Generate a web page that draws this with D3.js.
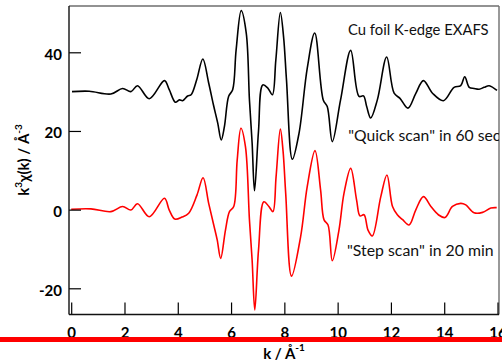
<!DOCTYPE html>
<html>
<head>
<meta charset="utf-8">
<script src="https://cdn.jsdelivr.net/npm/d3@7"></script>
<style>
  html, body { margin: 0; padding: 0; background: #fff; }
  svg { display: block; }
</style>
</head>
<body>
<svg id="chart" width="502" height="361"></svg>
<script>
// ---------------- data ----------------
const stepK = [0, 0.74, 1.49, 1.93, 2.24, 2.49, 2.93, 3.50, 3.68, 3.89, 4.16, 4.41, 4.72, 4.95, 5.16, 5.35, 5.48, 5.61, 5.79, 5.94, 6.10, 6.23, 6.37, 6.54, 6.69, 6.79, 6.89, 7.03, 7.23, 7.42, 7.57, 7.69, 7.85, 7.95, 8.05, 8.27, 8.61, 8.86, 9.15, 9.36, 9.49, 9.64, 9.80, 10.05, 10.24, 10.49, 10.71, 10.84, 10.99, 11.14, 11.30, 11.62, 11.85, 12.06, 12.24, 12.43, 12.68, 12.93, 13.22, 13.50, 13.78, 14.03, 14.31, 14.62, 14.81, 15.12, 15.44, 15.75, 15.97];
const stepChi = [0.1, 0.2, -0.5, 0.8, -0.1, 1.5, -1.8, 2.9, -0.1, -2.4, -1.9, -0.9, 3.7, 8.1, 1.6, -3.9, -7.7, -12.4, -5.2, -0.5, 0.8, 12.6, 20.7, 16.0, -2.6, -12.8, -25.5, -10.3, 2.0, 0.8, -0.5, 8.4, 20.5, 15.0, 4.2, -16.9, -6.9, 5.9, 15.0, 5.0, -2.6, -3.9, -13.0, -5.2, 4.2, 10.5, 2.5, -1.6, -1.3, -5.2, -6.7, 3.3, 8.8, 0.8, -1.3, -2.5, -3.9, -0.1, 3.3, 0.8, -1.3, -2.0, 0.8, 1.6, 1.2, -0.8, -0.7, 0.4, 0.5];

const quickK = [0.03, 0.68, 1.49, 1.93, 2.24, 2.49, 2.93, 3.50, 3.68, 3.91, 4.06, 4.18, 4.37, 4.50, 4.71, 4.94, 5.16, 5.34, 5.50, 5.63, 5.75, 5.91, 6.06, 6.19, 6.38, 6.57, 6.69, 6.79, 6.88, 7.03, 7.19, 7.38, 7.55, 7.68, 7.85, 7.97, 8.08, 8.30, 8.55, 8.86, 9.14, 9.46, 9.61, 9.80, 10.11, 10.49, 10.80, 10.97, 11.09, 11.24, 11.49, 11.84, 12.12, 12.34, 12.64, 12.93, 13.22, 13.56, 13.97, 14.37, 14.62, 14.77, 14.94, 15.12, 15.31, 15.50, 15.69, 15.98];
const quickChi = [30.0, 30.1, 29.4, 30.8, 30.0, 31.5, 28.2, 32.8, 30.5, 27.3, 27.9, 27.7, 28.9, 29.2, 33.0, 38.3, 32.2, 26.6, 22.0, 17.7, 21.1, 28.8, 30.5, 40.6, 50.6, 44.9, 27.9, 17.0, 4.8, 20.0, 31.7, 30.9, 29.2, 38.0, 50.1, 44.0, 33.0, 12.8, 19.4, 36.0, 44.9, 27.9, 26.2, 17.3, 27.9, 40.5, 28.8, 28.9, 26.2, 23.3, 27.9, 38.8, 29.6, 28.3, 25.8, 29.5, 32.8, 29.6, 27.7, 31.1, 31.5, 33.8, 31.1, 30.8, 30.6, 31.1, 31.5, 30.3];

const xTicks = [0, 2, 4, 6, 8, 10, 12, 14, 16];
const yTicks = [-20, 0, 20, 40];
const titleText = "Cu foil K-edge EXAFS";
const quickLabel = "\"Quick scan\" in 60 sec";
const stepLabel = "\"Step scan\" in 20 min";

// ---------------- layout ----------------
const svg = d3.select("#chart");
const frame = {left: 69, right: 499, top: 6, bottom: 314.5};
const x = d3.scaleLinear().domain([0, 16]).range([71.2, 497.5]);
const y = d3.scaleLinear().domain([-20, 40]).range([288.3, 52.3]);
const FONT = "Lato, 'Open Sans', sans-serif";

svg.append("defs").append("clipPath").attr("id", "plotclip")
  .append("rect").attr("x", frame.left).attr("y", frame.top)
  .attr("width", frame.right - frame.left).attr("height", frame.bottom - frame.top);

// frame top/right (gray)
svg.append("line").attr("x1", frame.left).attr("x2", frame.right)
  .attr("y1", frame.top).attr("y2", frame.top)
  .attr("stroke", "#6e6e6e").attr("stroke-width", 1.4);
svg.append("line").attr("x1", frame.right).attr("x2", frame.right)
  .attr("y1", frame.top).attr("y2", frame.bottom)
  .attr("stroke", "#6e6e6e").attr("stroke-width", 1.4);

// curves
const line = d3.line().curve(d3.curveCatmullRom.alpha(0.5))
  .x(d => x(d[0])).y(d => y(d[1]));
const plot = svg.append("g").attr("clip-path", "url(#plotclip)");
plot.append("path").datum(stepK.map((k, i) => [k, stepChi[i]]))
  .attr("d", line).attr("fill", "none").attr("stroke", "#ff0000")
  .attr("stroke-width", 1.6).attr("stroke-linejoin", "round");
plot.append("path").datum(quickK.map((k, i) => [k, quickChi[i]]))
  .attr("d", line).attr("fill", "none").attr("stroke", "#000")
  .attr("stroke-width", 1.6).attr("stroke-linejoin", "round");

// y axis
const yAxis = svg.append("g").attr("transform", `translate(${frame.left},0)`)
  .call(d3.axisLeft(y).tickValues(yTicks).tickFormat(d => String(d)).tickSize(-12).tickPadding(7));
yAxis.select(".domain").remove();
yAxis.selectAll(".tick line").attr("stroke", "#000").attr("stroke-width", 1.2);
yAxis.selectAll(".tick text").attr("dy", "0.45em")
  .style("font-family", FONT).style("font-weight", "700").style("font-size", "15px").attr("fill", "#000");

// x axis
const xAxis = svg.append("g").attr("transform", `translate(0,${frame.bottom})`)
  .call(d3.axisBottom(x).tickValues(xTicks).tickFormat(d => String(d)).tickSize(-12));
xAxis.select(".domain").remove();
xAxis.selectAll(".tick line").attr("stroke", "#000").attr("stroke-width", 1.2);
xAxis.selectAll(".tick text").attr("y", 23.5).attr("dy", 0)
  .style("font-family", FONT).style("font-weight", "700").style("font-size", "15px").attr("fill", "#000");

// left / bottom axis lines
svg.append("line").attr("x1", frame.left).attr("x2", frame.left)
  .attr("y1", frame.top).attr("y2", frame.bottom)
  .attr("stroke", "#111").attr("stroke-width", 1.4);
svg.append("line").attr("x1", frame.left).attr("x2", frame.right)
  .attr("y1", frame.bottom).attr("y2", frame.bottom)
  .attr("stroke", "#111").attr("stroke-width", 1.4);

// annotations
function fitText(sel, target) {
  const w = sel.node().getComputedTextLength();
  const fs = parseFloat(sel.style("font-size"));
  sel.style("font-size", (fs * target / w) + "px");
}
const tTitle = svg.append("text").attr("x", 348).attr("y", 35).text(titleText)
  .style("font-family", FONT).style("font-size", "14px").attr("fill", "#111");
fitText(tTitle, 140.7);
const tQuick = svg.append("g").attr("clip-path", "url(#plotclip)")
  .append("text").attr("x", 348.3).attr("y", 141).text(quickLabel)
  .style("font-family", FONT).style("font-size", "14px").attr("fill", "#111");
fitText(tQuick, 152);
const tStep = svg.append("text").attr("x", 347).attr("y", 256).text(stepLabel)
  .style("font-family", FONT).style("font-size", "14px").attr("fill", "#111");
fitText(tStep, 146.7);

// axis titles
const yLab = svg.append("text").attr("transform", "translate(29,160) rotate(-90)")
  .attr("text-anchor", "middle")
  .style("font-family", FONT).style("font-weight", "700").style("font-size", "15px").attr("fill", "#000");
yLab.append("tspan").text("k");
yLab.append("tspan").attr("dy", -7).style("font-size", "10px").text("3");
yLab.append("tspan").attr("dy", 7).text("χ(k) / Å");
yLab.append("tspan").attr("dy", -7).style("font-size", "10px").text("-3");

const xLab = svg.append("text").attr("x", 284).attr("y", 359)
  .attr("text-anchor", "middle")
  .style("font-family", FONT).style("font-weight", "700").style("font-size", "15px").attr("fill", "#000");
xLab.append("tspan").text("k / Å");
xLab.append("tspan").attr("dy", -8).style("font-size", "10px").text("-1");

// red bar across the bottom
svg.append("rect").attr("x", 0).attr("y", 337).attr("width", 502).attr("height", 5)
  .attr("fill", "#ff0000");
</script>
</body>
</html>
